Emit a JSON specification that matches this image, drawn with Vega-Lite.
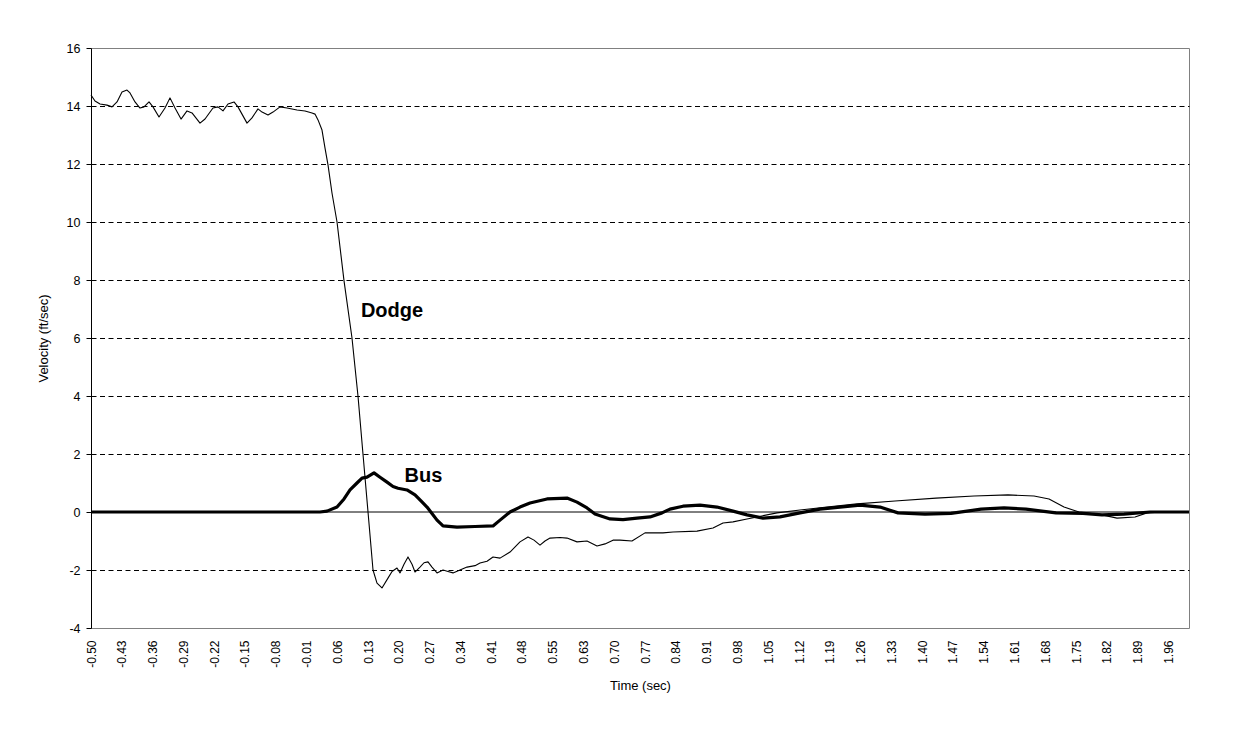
{
  "$schema": "https://vega.github.io/schema/vega-lite/v6.json",
  "width": 1098,
  "height": 580,
  "autosize": {"type": "none"},
  "padding": {"left": 91, "top": 48, "right": 50, "bottom": 104},
  "background": "white",
  "config": {
    "font": "Liberation Sans",
    "view": {"stroke": "#808080", "strokeWidth": 1}
  },
  "encoding": {
    "x": {
      "field": "t", "type": "quantitative",
      "scale": {"domain": [-0.5, 2.0078], "nice": false, "zero": false},
      "axis": {
        "title": "Time (sec)",
        "values": [-0.5,-0.4296875,-0.359375,-0.2890625,-0.21875,-0.1484375,-0.078125,-0.0078125,0.0625,0.1328125,0.203125,0.2734375,0.34375,0.4140625,0.484375,0.5546875,0.625,0.6953125,0.765625,0.8359375,0.90625,0.9765625,1.046875,1.1171875,1.1875,1.2578125,1.328125,1.3984375,1.46875,1.5390625,1.609375,1.6796875,1.75,1.8203125,1.890625,1.9609375],
        "labelExpr": "['-0.50','-0.43','-0.36','-0.29','-0.22','-0.15','-0.08','-0.01','0.06','0.13','0.20','0.27','0.34','0.41','0.48','0.55','0.63','0.70','0.77','0.84','0.91','0.98','1.05','1.12','1.19','1.26','1.33','1.40','1.47','1.54','1.61','1.68','1.75','1.82','1.89','1.96'][round((datum.value + 0.5) / 0.0703125)]",
        "labelAngle": 270,
        "labelFontSize": 12,
        "labelColor": "#000000",
        "labelPadding": 12,
        "labelOverlap": false,
        "labelFlush": false,
        "labelBound": false,
        "domain": false,
        "ticks": false,
        "tickSize": 0,
        "grid": false,
        "titleFontSize": 13,
        "titleFontWeight": "normal",
        "titleColor": "#000000",
        "titlePadding": 12
      }
    },
    "y": {
      "field": "v", "type": "quantitative",
      "scale": {"domain": [-4, 16], "nice": false, "zero": false},
      "axis": {
        "title": "Velocity (ft/sec)",
        "values": [-4,-2,0,2,4,6,8,10,12,14,16],
        "labelExpr": "'' + datum.value",
        "labelFontSize": 12.5,
        "labelColor": "#000000",
        "labelPadding": 6,
        "labelFlush": false,
        "domainColor": "#000000",
        "tickColor": "#000000",
        "tickSize": 5,
        "grid": true,
        "gridColor": "#000000",
        "gridDash": [5, 3.5],
        "gridOpacity": {"condition": {"test": "datum.value === 16 || datum.value === -4 || datum.value === 0", "value": 0}, "value": 1},
        "titleFontSize": 13,
        "titleFontWeight": "normal",
        "titleColor": "#000000",
        "titlePadding": 16
      }
    }
  },
  "layer": [
    {
      "data": {"values": [{"t": -0.5, "v": 0}, {"t": 2.0078, "v": 0}]},
      "mark": {"type": "line", "color": "#000000", "strokeWidth": 1}
    },
    {
      "data": {"values": [
        {"series":"Dodge","t":-0.5,"v":14.38},
        {"series":"Dodge","t":-0.4909,"v":14.17},
        {"series":"Dodge","t":-0.4794,"v":14.07},
        {"series":"Dodge","t":-0.4635,"v":14.03},
        {"series":"Dodge","t":-0.452,"v":13.97},
        {"series":"Dodge","t":-0.4406,"v":14.14},
        {"series":"Dodge","t":-0.4292,"v":14.48},
        {"series":"Dodge","t":-0.4178,"v":14.55},
        {"series":"Dodge","t":-0.4109,"v":14.45},
        {"series":"Dodge","t":-0.3995,"v":14.14},
        {"series":"Dodge","t":-0.3881,"v":13.93},
        {"series":"Dodge","t":-0.3789,"v":13.97},
        {"series":"Dodge","t":-0.3675,"v":14.14},
        {"series":"Dodge","t":-0.3584,"v":13.97},
        {"series":"Dodge","t":-0.3447,"v":13.62},
        {"series":"Dodge","t":-0.331,"v":13.93},
        {"series":"Dodge","t":-0.3196,"v":14.28},
        {"series":"Dodge","t":-0.3081,"v":13.93},
        {"series":"Dodge","t":-0.2944,"v":13.55},
        {"series":"Dodge","t":-0.2807,"v":13.83},
        {"series":"Dodge","t":-0.2693,"v":13.76},
        {"series":"Dodge","t":-0.251,"v":13.41},
        {"series":"Dodge","t":-0.2396,"v":13.55},
        {"series":"Dodge","t":-0.2214,"v":13.93},
        {"series":"Dodge","t":-0.2099,"v":13.97},
        {"series":"Dodge","t":-0.1985,"v":13.83},
        {"series":"Dodge","t":-0.1871,"v":14.07},
        {"series":"Dodge","t":-0.1734,"v":14.14},
        {"series":"Dodge","t":-0.1643,"v":13.97},
        {"series":"Dodge","t":-0.1437,"v":13.41},
        {"series":"Dodge","t":-0.1323,"v":13.59},
        {"series":"Dodge","t":-0.1186,"v":13.9},
        {"series":"Dodge","t":-0.1094,"v":13.79},
        {"series":"Dodge","t":-0.0957,"v":13.69},
        {"series":"Dodge","t":-0.0843,"v":13.79},
        {"series":"Dodge","t":-0.0683,"v":13.97},
        {"series":"Dodge","t":-0.0523,"v":13.93},
        {"series":"Dodge","t":-0.0295,"v":13.86},
        {"series":"Dodge","t":-0.0112,"v":13.83},
        {"series":"Dodge","t":0.0048,"v":13.76},
        {"series":"Dodge","t":0.0116,"v":13.72},
        {"series":"Dodge","t":0.0185,"v":13.52},
        {"series":"Dodge","t":0.0276,"v":13.17},
        {"series":"Dodge","t":0.0345,"v":12.55},
        {"series":"Dodge","t":0.0413,"v":11.97},
        {"series":"Dodge","t":0.0504,"v":11.0},
        {"series":"Dodge","t":0.0619,"v":10.0},
        {"series":"Dodge","t":0.0779,"v":7.97},
        {"series":"Dodge","t":0.0961,"v":6.0},
        {"series":"Dodge","t":0.1098,"v":4.0},
        {"series":"Dodge","t":0.1212,"v":2.0},
        {"series":"Dodge","t":0.1327,"v":0.0},
        {"series":"Dodge","t":0.1441,"v":-2.0},
        {"series":"Dodge","t":0.1532,"v":-2.45},
        {"series":"Dodge","t":0.1646,"v":-2.62},
        {"series":"Dodge","t":0.1783,"v":-2.28},
        {"series":"Dodge","t":0.1875,"v":-2.05},
        {"series":"Dodge","t":0.1989,"v":-1.93},
        {"series":"Dodge","t":0.2058,"v":-2.1},
        {"series":"Dodge","t":0.2149,"v":-1.8},
        {"series":"Dodge","t":0.224,"v":-1.55},
        {"series":"Dodge","t":0.2332,"v":-1.8},
        {"series":"Dodge","t":0.24,"v":-2.07},
        {"series":"Dodge","t":0.2514,"v":-1.9},
        {"series":"Dodge","t":0.2606,"v":-1.75},
        {"series":"Dodge","t":0.2697,"v":-1.72},
        {"series":"Dodge","t":0.2788,"v":-1.9},
        {"series":"Dodge","t":0.2903,"v":-2.1},
        {"series":"Dodge","t":0.304,"v":-2.0},
        {"series":"Dodge","t":0.3154,"v":-2.05},
        {"series":"Dodge","t":0.3268,"v":-2.1},
        {"series":"Dodge","t":0.3428,"v":-2.0},
        {"series":"Dodge","t":0.3588,"v":-1.9},
        {"series":"Dodge","t":0.3771,"v":-1.85},
        {"series":"Dodge","t":0.3885,"v":-1.76},
        {"series":"Dodge","t":0.4045,"v":-1.7},
        {"series":"Dodge","t":0.4182,"v":-1.55},
        {"series":"Dodge","t":0.4342,"v":-1.59},
        {"series":"Dodge","t":0.457,"v":-1.38},
        {"series":"Dodge","t":0.4798,"v":-1.03},
        {"series":"Dodge","t":0.4981,"v":-0.86},
        {"series":"Dodge","t":0.5118,"v":-0.97},
        {"series":"Dodge","t":0.5255,"v":-1.14},
        {"series":"Dodge","t":0.5369,"v":-1.0},
        {"series":"Dodge","t":0.5484,"v":-0.9},
        {"series":"Dodge","t":0.5712,"v":-0.88},
        {"series":"Dodge","t":0.5872,"v":-0.9},
        {"series":"Dodge","t":0.61,"v":-1.03},
        {"series":"Dodge","t":0.6329,"v":-1.0},
        {"series":"Dodge","t":0.6557,"v":-1.17},
        {"series":"Dodge","t":0.674,"v":-1.1},
        {"series":"Dodge","t":0.6922,"v":-0.97},
        {"series":"Dodge","t":0.7082,"v":-0.97},
        {"series":"Dodge","t":0.7356,"v":-1.0},
        {"series":"Dodge","t":0.7653,"v":-0.72},
        {"series":"Dodge","t":0.8064,"v":-0.72},
        {"series":"Dodge","t":0.8293,"v":-0.69},
        {"series":"Dodge","t":0.8841,"v":-0.66},
        {"series":"Dodge","t":0.9206,"v":-0.55},
        {"series":"Dodge","t":0.9435,"v":-0.38},
        {"series":"Dodge","t":0.9663,"v":-0.34},
        {"series":"Dodge","t":0.9983,"v":-0.24},
        {"series":"Dodge","t":1.0211,"v":-0.17},
        {"series":"Dodge","t":1.0668,"v":-0.03},
        {"series":"Dodge","t":1.1194,"v":0.07},
        {"series":"Dodge","t":1.181,"v":0.17},
        {"series":"Dodge","t":1.2495,"v":0.28},
        {"series":"Dodge","t":1.3363,"v":0.38},
        {"series":"Dodge","t":1.43,"v":0.48},
        {"series":"Dodge","t":1.5168,"v":0.55},
        {"series":"Dodge","t":1.5944,"v":0.59},
        {"series":"Dodge","t":1.6538,"v":0.55},
        {"series":"Dodge","t":1.6881,"v":0.45},
        {"series":"Dodge","t":1.7223,"v":0.17},
        {"series":"Dodge","t":1.7566,"v":0.0},
        {"series":"Dodge","t":1.8091,"v":-0.1},
        {"series":"Dodge","t":1.8434,"v":-0.21},
        {"series":"Dodge","t":1.8845,"v":-0.17},
        {"series":"Dodge","t":1.9119,"v":-0.03},
        {"series":"Dodge","t":1.9462,"v":0.0},
        {"series":"Dodge","t":2.0078,"v":0.0},
        {"series":"Bus","t":-0.5,"v":0.0},
        {"series":"Bus","t":0.023,"v":0.0},
        {"series":"Bus","t":0.039,"v":0.03},
        {"series":"Bus","t":0.0619,"v":0.17},
        {"series":"Bus","t":0.0779,"v":0.45},
        {"series":"Bus","t":0.0916,"v":0.76},
        {"series":"Bus","t":0.1075,"v":1.0},
        {"series":"Bus","t":0.119,"v":1.17},
        {"series":"Bus","t":0.1304,"v":1.2},
        {"series":"Bus","t":0.1464,"v":1.35},
        {"series":"Bus","t":0.1601,"v":1.2},
        {"series":"Bus","t":0.1761,"v":1.03},
        {"series":"Bus","t":0.1898,"v":0.88},
        {"series":"Bus","t":0.2012,"v":0.82},
        {"series":"Bus","t":0.2217,"v":0.76},
        {"series":"Bus","t":0.24,"v":0.59},
        {"series":"Bus","t":0.2537,"v":0.38},
        {"series":"Bus","t":0.2674,"v":0.17},
        {"series":"Bus","t":0.2788,"v":-0.05},
        {"series":"Bus","t":0.2903,"v":-0.28},
        {"series":"Bus","t":0.304,"v":-0.48},
        {"series":"Bus","t":0.3359,"v":-0.52},
        {"series":"Bus","t":0.3771,"v":-0.5},
        {"series":"Bus","t":0.4182,"v":-0.48},
        {"series":"Bus","t":0.4342,"v":-0.28},
        {"series":"Bus","t":0.457,"v":0.0},
        {"series":"Bus","t":0.4798,"v":0.17},
        {"series":"Bus","t":0.5027,"v":0.31},
        {"series":"Bus","t":0.5415,"v":0.45},
        {"series":"Bus","t":0.5872,"v":0.48},
        {"series":"Bus","t":0.61,"v":0.34},
        {"series":"Bus","t":0.6329,"v":0.14},
        {"series":"Bus","t":0.6511,"v":-0.07},
        {"series":"Bus","t":0.6854,"v":-0.24},
        {"series":"Bus","t":0.7151,"v":-0.26},
        {"series":"Bus","t":0.7471,"v":-0.21},
        {"series":"Bus","t":0.7768,"v":-0.17},
        {"series":"Bus","t":0.8042,"v":-0.03},
        {"series":"Bus","t":0.8224,"v":0.1},
        {"series":"Bus","t":0.8521,"v":0.2},
        {"series":"Bus","t":0.891,"v":0.24},
        {"series":"Bus","t":0.9298,"v":0.17},
        {"series":"Bus","t":0.9663,"v":0.03},
        {"series":"Bus","t":0.9983,"v":-0.1},
        {"series":"Bus","t":1.0348,"v":-0.21},
        {"series":"Bus","t":1.0737,"v":-0.17},
        {"series":"Bus","t":1.1194,"v":-0.03},
        {"series":"Bus","t":1.165,"v":0.1},
        {"series":"Bus","t":1.2107,"v":0.17},
        {"series":"Bus","t":1.2564,"v":0.24},
        {"series":"Bus","t":1.3021,"v":0.17},
        {"series":"Bus","t":1.3432,"v":-0.03},
        {"series":"Bus","t":1.4049,"v":-0.07},
        {"series":"Bus","t":1.4642,"v":-0.05},
        {"series":"Bus","t":1.5328,"v":0.1},
        {"series":"Bus","t":1.5853,"v":0.14},
        {"series":"Bus","t":1.6355,"v":0.1},
        {"series":"Bus","t":1.7041,"v":-0.03},
        {"series":"Bus","t":1.7657,"v":-0.05},
        {"series":"Bus","t":1.8091,"v":-0.1},
        {"series":"Bus","t":1.8594,"v":-0.07},
        {"series":"Bus","t":1.9188,"v":0.0},
        {"series":"Bus","t":2.0078,"v":0.0}
      ]},
      "mark": {"type": "line", "color": "#000000", "strokeJoin": "round"},
      "encoding": {
        "strokeWidth": {"field": "series", "type": "nominal", "scale": {"domain": ["Dodge", "Bus"], "range": [1.1, 3.2]}, "legend": null}
      }
    },
    {
      "data": {"values": [
        {"t": 0.1875, "v": 6.72, "label": "Dodge"},
        {"t": 0.2594, "v": 1.03, "label": "Bus"}
      ]},
      "mark": {"type": "text", "fontSize": 20, "fontWeight": "bold", "align": "center", "baseline": "alphabetic", "color": "#000000"},
      "encoding": {"text": {"field": "label", "type": "nominal"}}
    }
  ]
}
